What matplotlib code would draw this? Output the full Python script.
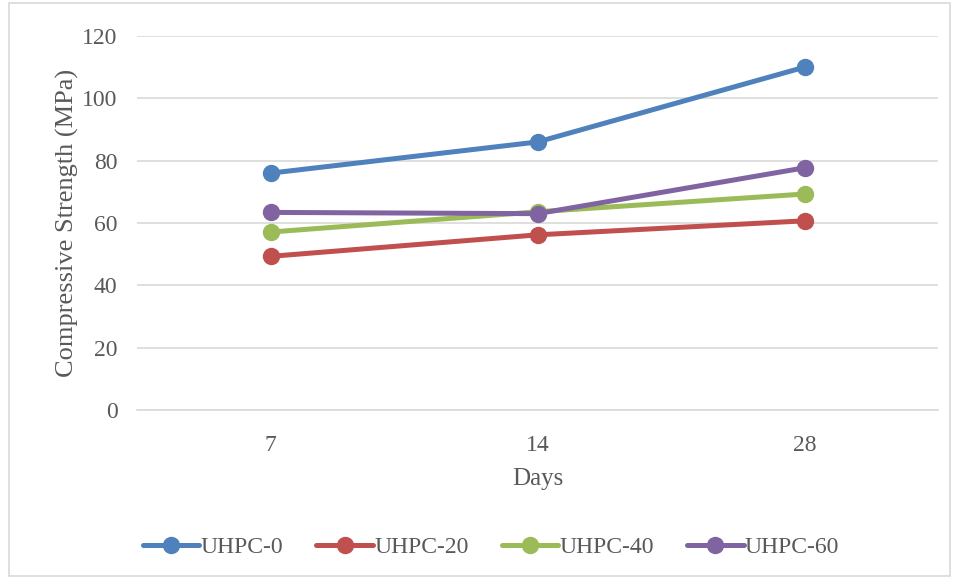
import matplotlib.pyplot as plt
from matplotlib.patches import Rectangle

plt.rcParams['font.family'] = ['Liberation Serif', 'DejaVu Serif']

days = ['7', '14', '28']
uhpc_0 = [76.0, 86.0, 110.0]
uhpc_20 = [49.3, 56.2, 60.7]
uhpc_40 = [57.1, 63.6, 69.3]
uhpc_60 = [63.4, 63.0, 77.7]
series = ['UHPC-0', 'UHPC-20', 'UHPC-40', 'UHPC-60']
colors = ['#4f81bd', '#c0504d', '#9bbb59', '#8064a2']

fig = plt.figure(figsize=(9.57, 5.79), dpi=100)
ax = fig.add_axes([0.1432, 0.2919, 0.8370, 0.6459])

x = range(len(days))
for name, vals, c in zip(series, [uhpc_0, uhpc_20, uhpc_40, uhpc_60], colors):
    ax.plot(x, vals, color=c, lw=3.6, marker='o', ms=11.5, label=name,
            solid_capstyle='round')

ax.set_xlim(-0.5, 2.5)
ax.set_ylim(0, 120)
ax.set_yticks(range(0, 121, 20))
ax.set_xticks(list(x))
ax.set_xticklabels(days)
ax.grid(axis='y', color='#d9d9d9', lw=1.2)
ax.set_axisbelow(True)
for s in ['left', 'right', 'top']:
    ax.spines[s].set_visible(False)
ax.spines['bottom'].set_color('#d9d9d9')
ax.spines['bottom'].set_linewidth(1.2)
ax.tick_params(length=0, labelsize=17, colors='#595959')
ax.tick_params(axis='x', pad=18)
ax.tick_params(axis='y', pad=14)
ax.set_ylabel('Compressive Strength (MPa)', fontsize=19, color='#595959', labelpad=2)
ax.set_xlabel('Days', fontsize=18, color='#595959', labelpad=9)

leg = fig.legend(loc='center', bbox_to_anchor=(0.513, 0.055), ncol=4, frameon=False,
                 fontsize=17, labelcolor='#595959', handlelength=2.4,
                 handletextpad=0.05, columnspacing=1.4)

# light chart border
fig.add_artist(Rectangle((0.009, 0.005), 0.984, 0.99, transform=fig.transFigure,
                         fill=False, edgecolor='#d9d9d9', lw=1.2))

fig.savefig('out.png', dpi=100)
